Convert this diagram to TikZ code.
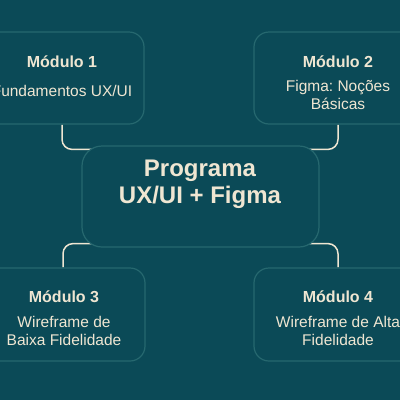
\documentclass[tikz,border=0pt]{standalone}
\usepackage{fontspec}
\setmainfont{Liberation Sans}
\usetikzlibrary{calc}
\frenchspacing
\definecolor{bgc}{HTML}{0B4A57}
\definecolor{boxline}{HTML}{26686F}
\definecolor{cream}{HTML}{EFE6D2}
\pgfdeclarelayer{canvas}
\pgfdeclarelayer{wires}
\pgfsetlayers{canvas,wires,main}
\tikzset{
  card/.style={draw=boxline, line width=1.2pt, fill=bgc, rounded corners=15pt, minimum width=164pt, minimum height=92pt, inner sep=0pt},
  hub/.style={draw=boxline, line width=1.2pt, fill=bgc, rounded corners=20pt, minimum width=237pt, minimum height=101pt, inner sep=0pt},
  title/.style={text=cream, font=\fontsize{16}{18}\selectfont\bfseries, inner sep=0pt},
  body/.style={text=cream, font=\fontsize{15.5}{18}\selectfont, align=center, inner sep=0pt},
  hubtext/.style={text=cream, font=\fontsize{24}{27}\selectfont\bfseries, align=center, inner sep=0pt},
  conn/.style={draw=cream, line width=1.5pt, rounded corners=10pt}
}
\begin{document}
\begin{tikzpicture}[x=1pt,y=-1pt]
\useasboundingbox (0,0) rectangle (400,400);
\begin{pgfonlayer}{canvas}
\fill[bgc] (0,0) rectangle (400,400);
\end{pgfonlayer}
\node[card] (m1) at (62,78) {};
\node[card, minimum width=168pt] (m2) at (338,78) {};
\node[card, minimum height=93pt] (m3) at (63,314.5) {};
\node[card, minimum width=168pt, minimum height=93pt] (m4) at (338,314.5) {};
\node[hub] (c) at (200.5,196.5) {};
\begin{pgfonlayer}{wires}
\draw[conn] (m1.south) |- ($(c.north west)+(12,4)$);
\draw[conn] (m2.south) |- ($(c.north east)+(-12,4)$);
\draw[conn] (m3.north) |- ($(c.south west)+(12,-4)$);
\draw[conn] (m4.north) |- ($(c.south east)+(-12,-4)$);
\end{pgfonlayer}
\node[hubtext] (ct) at (200,184.5) {Programa\\UX/UI + Figma};
\node[title] (t1) at (62,62) {Módulo 1};
\node[body] (b1) at (62,91) {Fundamentos UX/UI};
\node[title] (t2) at (338,62) {Módulo 2};
\node[body] (b2) at (338,95) {Figma: Noções\\Básicas};
\node[title] (t3) at (64,297) {Módulo 3};
\node[body] (b3) at (64,331) {Wireframe de\\Baixa Fidelidade};
\node[title] (t4) at (338,297) {Módulo 4};
\node[body] (b4) at (338,331) {Wireframe de Alta\\Fidelidade};
\end{tikzpicture}
\end{document}
